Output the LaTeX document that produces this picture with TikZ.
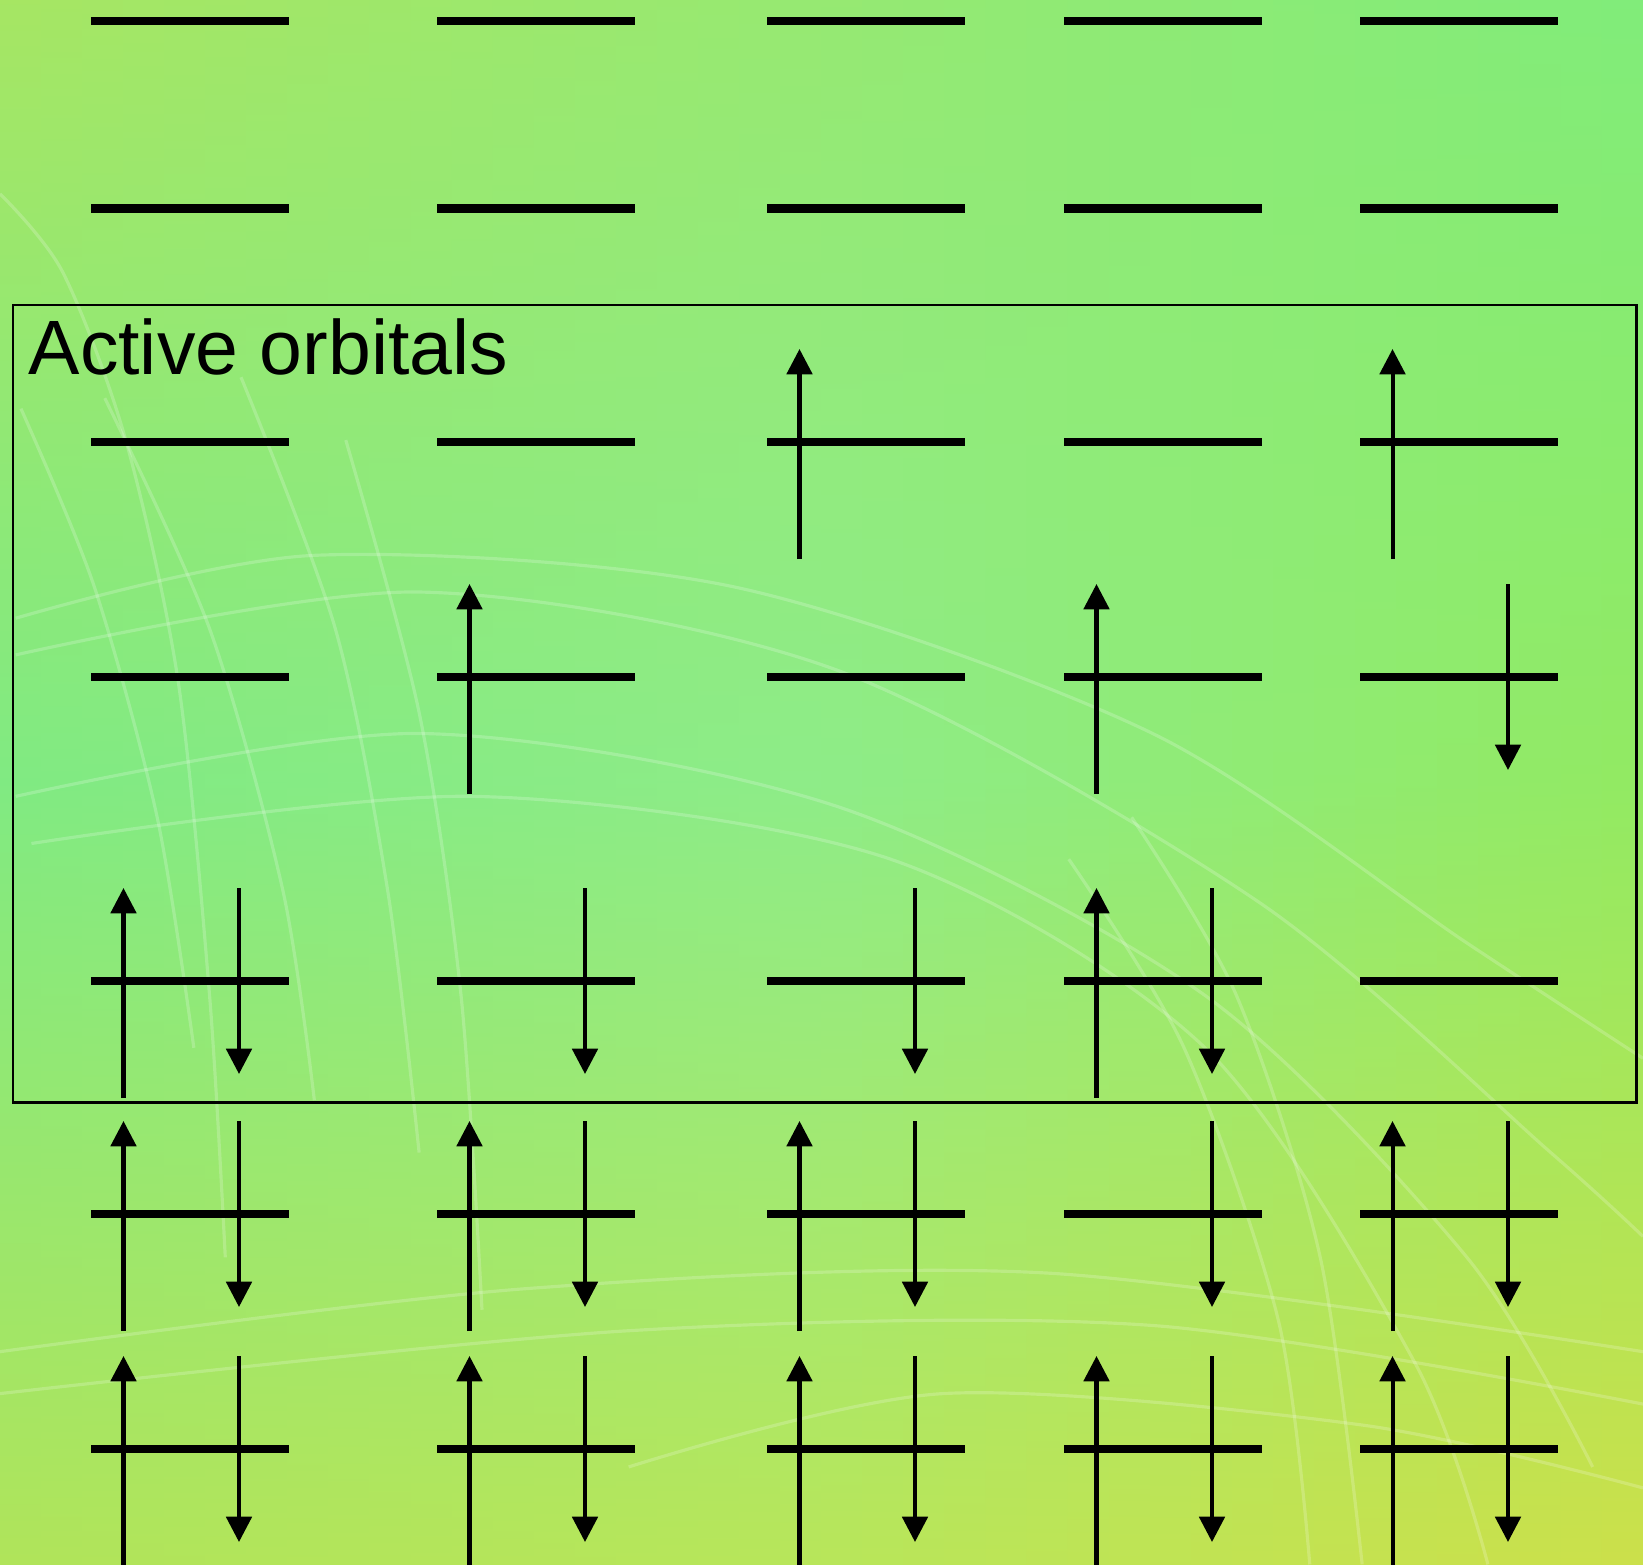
\documentclass[tikz,border=0pt]{standalone}
\usepackage{fontspec}
\setmainfont{Liberation Sans}
\usetikzlibrary{arrows.meta}

% background colour field: three rows (top, middle, bottom) of three colours
\definecolor{bgTL}{HTML}{A6E663}
\definecolor{bgTC}{HTML}{96E972}
\definecolor{bgTR}{HTML}{80EC7A}
\definecolor{bgML}{HTML}{80EA82}
\definecolor{bgMC}{HTML}{8EEC88}
\definecolor{bgMR}{HTML}{92EA62}
\definecolor{bgBL}{HTML}{B0E45A}
\definecolor{bgBC}{HTML}{B8E65A}
\definecolor{bgBR}{HTML}{CCE04A}

\begin{document}
\begin{tikzpicture}[x=0.01cm,y=-0.01cm,
  level/.style={line width=2.3pt},
  spinarrow/.style={line width=1.15pt,-{Triangle[width=7.2pt,length=7.2pt]}},
  frame/.style={line width=0.85pt},
  texture/.style={white,opacity=0.2,line width=0.9pt},
  % one orbital level, 198 units wide, starting at the pic origin
  pics/orbnone/.style={code={\draw[level] (0,0) -- (198,0);}},
  pics/orbup/.style={code={
    \draw[level] (0,0) -- (198,0);
    \draw[spinarrow] (32.5,117) -- (32.5,-93);}},
  pics/orbdown/.style={code={
    \draw[level] (0,0) -- (198,0);
    \draw[spinarrow] (148,-93) -- (148,93);}},
  pics/orbpair/.style={code={
    \draw[level] (0,0) -- (198,0);
    \draw[spinarrow] (32.5,117) -- (32.5,-93);
    \draw[spinarrow] (148,-93) -- (148,93);}},
]
\useasboundingbox (0,0) rectangle (1643,1564);
\clip (0,0) rectangle (1643,1564);

% smooth two-dimensional colour gradient built from vertical strips
\foreach \i in {0,...,39}{
  \pgfmathtruncatemacro\f{(\i+0.5)/40*200}
  \ifnum\f<100
    \colorlet{stripT}{bgTC!\f!bgTL}
    \colorlet{stripM}{bgMC!\f!bgML}
    \colorlet{stripB}{bgBC!\f!bgBL}
  \else
    \pgfmathtruncatemacro\g{\f-100}
    \colorlet{stripT}{bgTR!\g!bgTC}
    \colorlet{stripM}{bgMR!\g!bgMC}
    \colorlet{stripB}{bgBR!\g!bgBC}
  \fi
  \shade[top color=stripT,bottom color=stripB,middle color=stripM]
    ({\i*41.075},0) rectangle ({\i*41.075+42.5},1564);
}

% faint light swirls of the backdrop
\begin{scope}[xscale=1.0478,yscale=1.0478]
  \draw[texture] plot[smooth] coordinates {(0,185) (60,260) (120,420) (170,650) (200,950) (215,1200)};
  \draw[texture] plot[smooth] coordinates {(20,390) (90,560) (150,780) (185,1000)};
  \draw[texture] plot[smooth] coordinates {(100,380) (200,600) (270,850) (300,1050)};
  \draw[texture] plot[smooth] coordinates {(230,360) (320,600) (370,850) (400,1100)};
  \draw[texture] plot[smooth] coordinates {(330,420) (400,680) (440,950) (460,1250)};
  \draw[texture] plot[smooth] coordinates {(15,590) (300,530) (700,560) (1100,700) (1400,900) (1568,1010)};
  \draw[texture] plot[smooth] coordinates {(15,625) (400,565) (800,640) (1200,860) (1480,1100) (1568,1180)};
  \draw[texture] plot[smooth] coordinates {(15,760) (400,700) (800,770) (1150,950) (1400,1200) (1520,1400)};
  \draw[texture] plot[smooth] coordinates {(30,805) (450,760) (850,820) (1150,1000) (1350,1300) (1420,1493)};
  \draw[texture] plot[smooth] coordinates {(1080,780) (1180,950) (1260,1200) (1300,1493)};
  \draw[texture] plot[smooth] coordinates {(1020,820) (1130,1000) (1220,1260) (1250,1493)};
  \draw[texture] plot[smooth] coordinates {(0,1290) (500,1230) (1000,1215) (1568,1290)};
  \draw[texture] plot[smooth] coordinates {(0,1330) (600,1270) (1100,1265) (1568,1340)};
  \draw[texture] plot[smooth] coordinates {(600,1400) (900,1330) (1300,1360) (1568,1420)};
\end{scope}

% active space frame and its label
\draw[frame] (13,305) rectangle (1636,1102);
\node[anchor=base west,inner sep=0pt,font=\fontsize{21.9}{26}\selectfont]
  (title) at (28,375) {Active orbitals};

% virtual orbitals
\pic (r1c1) at (91,21)   {orbnone};
\pic (r1c2) at (437,21)  {orbnone};
\pic (r1c3) at (767,21)  {orbnone};
\pic (r1c4) at (1064,21) {orbnone};
\pic (r1c5) at (1360,21) {orbnone};

\pic (r2c1) at (91,208.5)   {orbnone};
\pic (r2c2) at (437,208.5)  {orbnone};
\pic (r2c3) at (767,208.5)  {orbnone};
\pic (r2c4) at (1064,208.5) {orbnone};
\pic (r2c5) at (1360,208.5) {orbnone};

% active orbitals
\pic (r3c1) at (91,442)   {orbnone};
\pic (r3c2) at (437,442)  {orbnone};
\pic (r3c3) at (767,442)  {orbup};
\pic (r3c4) at (1064,442) {orbnone};
\pic (r3c5) at (1360,442) {orbup};

\pic (r4c1) at (91,677)   {orbnone};
\pic (r4c2) at (437,677)  {orbup};
\pic (r4c3) at (767,677)  {orbnone};
\pic (r4c4) at (1064,677) {orbup};
\pic (r4c5) at (1360,677) {orbdown};

\pic (r5c1) at (91,981)   {orbpair};
\pic (r5c2) at (437,981)  {orbdown};
\pic (r5c3) at (767,981)  {orbdown};
\pic (r5c4) at (1064,981) {orbpair};
\pic (r5c5) at (1360,981) {orbnone};

% core orbitals
\pic (r6c1) at (91,1214)   {orbpair};
\pic (r6c2) at (437,1214)  {orbpair};
\pic (r6c3) at (767,1214)  {orbpair};
\pic (r6c4) at (1064,1214) {orbdown};
\pic (r6c5) at (1360,1214) {orbpair};

\pic (r7c1) at (91,1449)   {orbpair};
\pic (r7c2) at (437,1449)  {orbpair};
\pic (r7c3) at (767,1449)  {orbpair};
\pic (r7c4) at (1064,1449) {orbpair};
\pic (r7c5) at (1360,1449) {orbpair};
\end{tikzpicture}
\end{document}
